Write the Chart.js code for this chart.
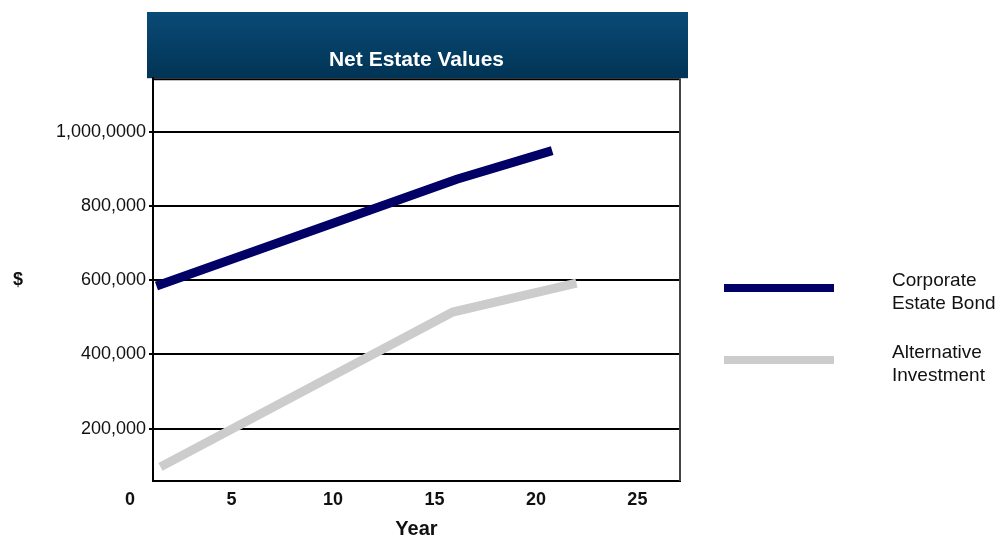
<!DOCTYPE html>
<html>
<head>
<meta charset="utf-8">
<title>Net Estate Values</title>
<script src="https://cdn.jsdelivr.net/npm/chart.js@4"></script>
<style>
    body { margin: 0; background: #fff; }
    canvas { display: block; }
</style>
</head>
<body>
<canvas id="chart" width="1008" height="539"></canvas>
<script>
// values
const corporateYears = [1.3, 16.1, 20.8];
const corporateValues = [584000, 872000, 949000];
const alternativeYears = [1.5, 15.9, 22.0];
const alternativeValues = [97000, 514000, 592000];

const xTicks = [0, 5, 10, 15, 20, 25];
const yTicks = [200000, 400000, 600000, 800000, 1000000];
const yTickLabels = ["200,000", "400,000", "600,000", "800,000", "1,000,0000"];

const seriesNames = [["Corporate", "Estate Bond"], ["Alternative", "Investment"]];
const seriesColors = ["#000066", "#cccccc"];

const FONT = "'Liberation Sans', Arial, sans-serif";

function toPoints(xs, ys) {
    return xs.map((x, i) => ({ x: x, y: ys[i] }));
}

// banner behind the title, plot frame, "$" label and the legend on the right
const decorations = {
    id: "decorations",
    beforeDraw(chart) {
        const ctx = chart.ctx;
        const area = chart.chartArea;
        const g = ctx.createLinearGradient(0, 12, 0, area.top);
        g.addColorStop(0, "#0a4a77");
        g.addColorStop(1, "#013455");
        ctx.save();
        ctx.fillStyle = g;
        ctx.fillRect(area.left - 6, 12, area.right - area.left + 14, area.top - 12);
        ctx.restore();
    },
    afterDraw(chart) {
        const ctx = chart.ctx;
        const area = chart.chartArea;
        ctx.save();
        ctx.strokeStyle = "#000";
        ctx.lineWidth = 2;
        ctx.beginPath();
        ctx.moveTo(area.left, area.top + 1);
        ctx.lineTo(area.right, area.top + 1);
        ctx.stroke();
        ctx.strokeStyle = "#444";
        ctx.beginPath();
        ctx.moveTo(area.right, area.top);
        ctx.lineTo(area.right, area.bottom);
        ctx.stroke();

        ctx.fillStyle = "#111";
        ctx.font = "bold 18px " + FONT;
        ctx.textAlign = "center";
        ctx.textBaseline = "middle";
        ctx.fillText("$", 18, 280);

        // legend
        const rows = [288, 360];
        ctx.font = "19px " + FONT;
        ctx.textAlign = "left";
        chart.data.datasets.forEach((ds, i) => {
            const y = rows[i];
            ctx.strokeStyle = ds.borderColor;
            ctx.lineWidth = 8;
            ctx.beginPath();
            ctx.moveTo(724, y);
            ctx.lineTo(834, y);
            ctx.stroke();
            ctx.fillStyle = "#111";
            seriesNames[i].forEach((line, j) => {
                ctx.fillText(line, 892, y - 7 + j * 23);
            });
        });
        ctx.restore();
    }
};

const data = {
    datasets: [
        {
            label: seriesNames[0].join(" "),
            data: toPoints(corporateYears, corporateValues),
            borderColor: seriesColors[0],
            borderWidth: 9,
        },
        {
            label: seriesNames[1].join(" "),
            data: toPoints(alternativeYears, alternativeValues),
            borderColor: seriesColors[1],
            borderWidth: 9,
        },
    ],
};

const config = {
    type: "line",
    data: data,
    plugins: [decorations],
    options: {
        responsive: false,
        animation: false,
        devicePixelRatio: 1,
        layout: { padding: { left: 0, right: 328, top: 0, bottom: 0 } },
        elements: {
            point: { radius: 0 },
            line: { tension: 0, borderCapStyle: "butt", borderJoinStyle: "miter" }
        },
        plugins: {
            legend: { display: false },
            tooltip: { enabled: false },
            title: {
                display: true,
                text: "Net Estate Values",
                fullSize: false,
                color: "#fff",
                font: { family: FONT, size: 21, weight: "bold", lineHeight: 1.2 },
                padding: { top: 48, bottom: 5 }
            }
        },
        scales: {
            x: {
                type: "linear",
                min: 1.13,
                max: 27.1,
                bounds: "data",
                afterBuildTicks: (axis) => { axis.ticks = xTicks.map(v => ({ value: v })); },
                afterFit: (axis) => { axis.height = 58; },
                grid: { display: false },
                border: { display: true, color: "#000", width: 2 },
                ticks: {
                    autoSkip: false,
                    maxRotation: 0,
                    padding: 0,
                    color: "#111",
                    font: { family: FONT, size: 18, weight: "bold" }
                },
                title: {
                    display: true,
                    text: "Year",
                    color: "#111",
                    padding: 0,
                    font: { family: FONT, size: 20, weight: "bold", lineHeight: 1 }
                }
            },
            y: {
                type: "linear",
                min: 59000,
                max: 1144000,
                bounds: "data",
                afterBuildTicks: (axis) => { axis.ticks = yTicks.map(v => ({ value: v })); },
                afterFit: (axis) => { axis.width = 153; },
                grid: { color: "#000", lineWidth: 2, tickLength: 4 },
                border: { display: true, color: "#000", width: 2 },
                ticks: {
                    autoSkip: false,
                    padding: 3,
                    color: "#111",
                    font: { family: FONT, size: 18 },
                    callback: (value) => yTickLabels[yTicks.indexOf(value)]
                }
            }
        }
    }
};

new Chart(document.getElementById("chart").getContext("2d"), config);
</script>
</body>
</html>
